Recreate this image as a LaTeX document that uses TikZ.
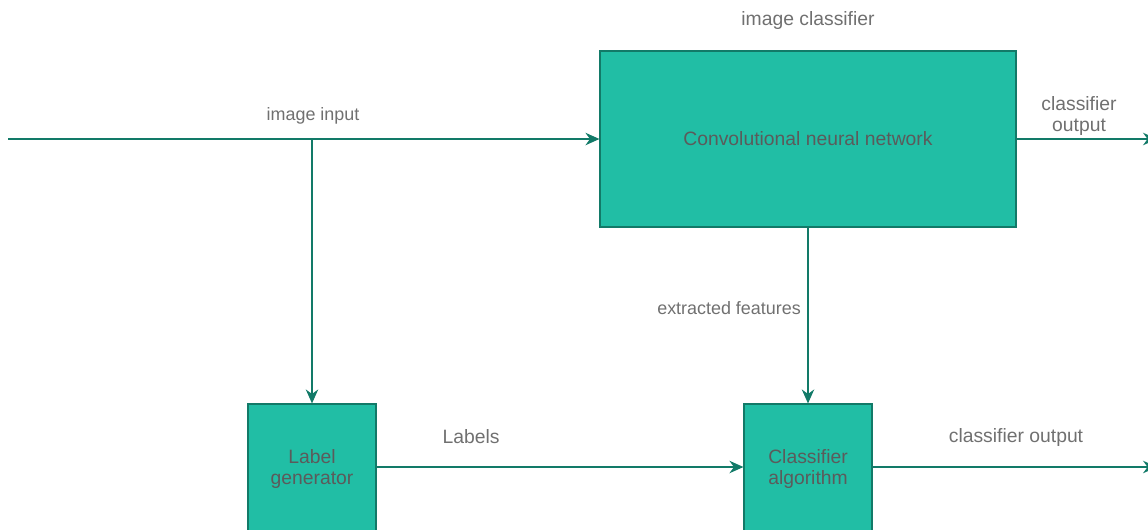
\documentclass[tikz,border=0pt]{standalone}
\usepackage{fontspec}
\setmainfont{Liberation Sans}
\usepackage{xcolor}
\usetikzlibrary{positioning}
\usetikzlibrary{arrows.meta}

\definecolor{boxfill}{HTML}{21BEA5}
\definecolor{boxline}{HTML}{127A68}
\definecolor{boxtext}{HTML}{5B5B5B}
\definecolor{lbltext}{HTML}{707070}

\tikzset{
  block/.style={draw=boxline, line width=0.7pt, fill=boxfill, text=boxtext,
    font=\fontsize{11}{12.5}\selectfont, align=center, inner sep=0pt},
  lbl/.style={text=lbltext, font=\fontsize{11}{12.5}\selectfont, align=center, inner sep=0pt},
  lblsmall/.style={lbl, font=\fontsize{10.2}{12}\selectfont},
  flow/.style={draw=boxline, line width=0.7pt, -{Stealth[length=2.8mm,width=2.5mm]}},
}

\begin{document}
\begin{tikzpicture}[x=0.02cm,y=-0.02cm]
   \useasboundingbox (0,0) rectangle (1148,529);

   \node (CNN) [block, minimum width=8.32cm, minimum height=3.52cm] at (808,139)
        {Convolutional neural network};
   \node (LG)  [block, minimum width=2.56cm, minimum height=2.6cm] at (312,469)
        {Label\\generator};
   \node (CA)  [block, minimum width=2.56cm, minimum height=2.6cm] at (808,469)
        {Classifier\\algorithm};

   \coordinate (in)    at (8,139);
   \coordinate (split) at (312,139);
   \coordinate (out1)  at (1157,139);
   \coordinate (out2)  at (1157,467);

   \node (ic)  [lbl] at (808,20)  {image classifier};
   \node (ii)  [lblsmall] at (313,116) {image input};
   \node (co1) [lbl] at (1079,116) {classifier\\output};
   \node (ef)  [lblsmall] at (729,308) {extracted features};
   \node (lb)  [lbl] at (471,437) {Labels};
   \node (co2) [lbl] at (1016,437) {classifier output};

   \draw [flow] (in) -- (CNN.west);
   \draw [flow] (split) -- (LG.north);
   \draw [flow] (CNN.east) -- (out1);
   \draw [flow] (CNN.south) -- (CA.north);
   \draw [flow] (LG.east |- 0,467) -- (CA.west |- 0,467);
   \draw [flow] (CA.east |- 0,467) -- (out2);
\end{tikzpicture}
\end{document}
